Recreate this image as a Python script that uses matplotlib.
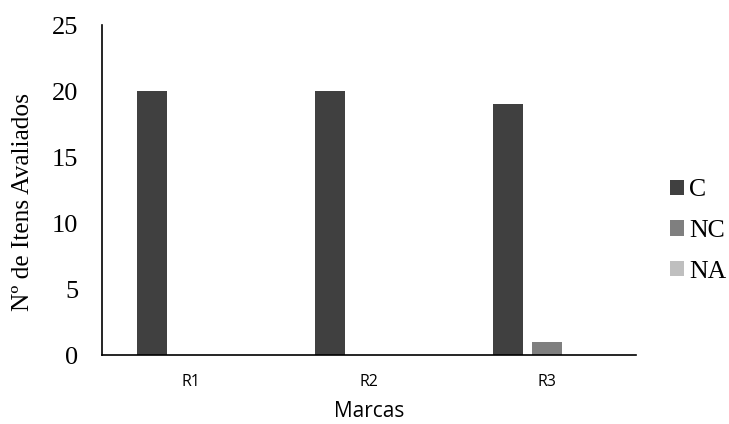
import numpy as np
import matplotlib
matplotlib.use('Agg')
import matplotlib.pyplot as plt

# data
marcas = ['R1', 'R2', 'R3']
series = ['C', 'NC', 'NA']
C = [20, 20, 19]
NC = [0, 0, 1]
NA = [0, 0, 0]
colors = ['#404040', '#7f7f7f', '#bfbfbf']

fig = plt.figure(figsize=(7.29, 4.24), dpi=100)
ax = fig.add_axes([102/729, 1 - 355/424, 534/729, 330/424])

x = np.arange(len(marcas))
width = 0.17
offset = 0.22
for i, (vals, lab) in enumerate(zip([C, NC, NA], series)):
    ax.bar(x + (i - 1) * offset, vals, width, color=colors[i], label=lab)

ax.set_xlim(-0.5, 2.5)
ax.set_ylim(0, 25)
ax.set_yticks([0, 5, 10, 15, 20, 25])
ax.set_yticklabels(['0', '5', '10', '15', '20', '25'], family='Liberation Serif', fontsize=19)
ax.set_xticks(x)
ax.set_xticklabels(marcas, family='Open Sans', fontsize=11.5)
ax.tick_params(axis='both', length=0)
ax.tick_params(axis='y', pad=17)
ax.tick_params(axis='x', pad=14)
ax.spines['top'].set_visible(False)
ax.spines['right'].set_visible(False)
ax.spines['left'].set_linewidth(1.2)
ax.spines['bottom'].set_linewidth(1.2)

ax.set_ylabel('Nº de Itens Avaliados', family='Liberation Serif', fontsize=18.3)
ax.yaxis.set_label_coords(-68/534, 0.465)
ax.set_xlabel('Marcas', family='Open Sans', fontsize=15)
ax.xaxis.set_label_coords(0.5, -46/330)

ax.legend(loc='center left', bbox_to_anchor=(670/729, 1 - 231/424), bbox_transform=fig.transFigure,
          frameon=False, borderaxespad=0, borderpad=0,
          prop={'family': 'Liberation Serif', 'size': 18.5},
          handlelength=0.55, handleheight=0.55, handletextpad=0.2, labelspacing=0.72)

fig.savefig('out.png', dpi=100)
